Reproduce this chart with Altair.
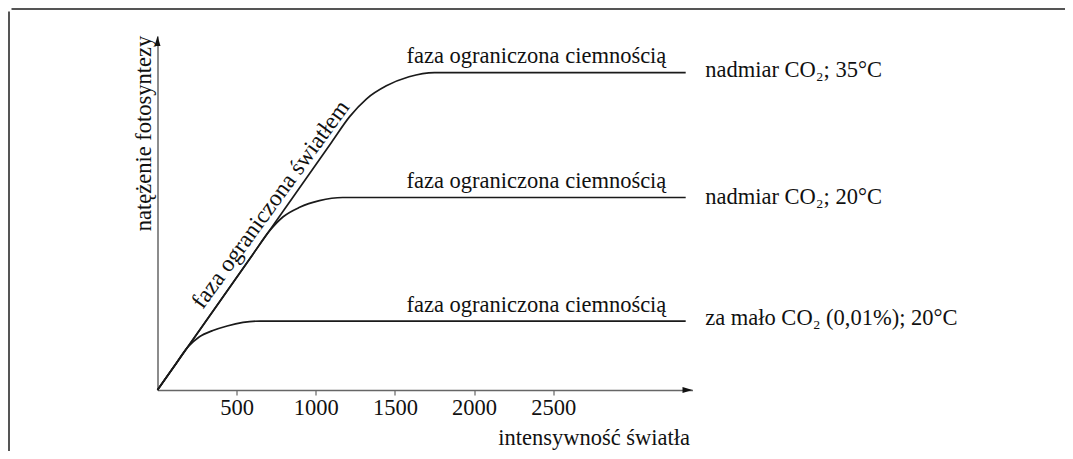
import altair as alt
import pandas as pd

FONT = "Liberation Serif"

# --- curve data (x: light intensity, y: photosynthesis rate, arbitrary units)
x_35 = [0, 400, 800, 1100, 1214, 1321, 1446, 1589, 1750, 3337]
y_35 = [0, 25.7, 51.5, 70.8, 78.1, 83.2, 86.9, 89.5, 90.7, 90.7]
x_20 = [0, 300, 600, 710, 794, 898, 1023, 1170, 3337]
y_20 = [0, 19.3, 38.6, 45.6, 49.5, 52.2, 54.1, 55.0, 55.0]
x_low = [0, 100, 190, 265, 350, 440, 540, 650, 3337]
y_low = [0, 6.4, 12.2, 15.2, 17.0, 18.3, 19.3, 19.7, 19.7]

x_ticks = [500, 1000, 1500, 2000, 2500]
x_max = 3380
y_max = 101.14

phase_text = "faza ograniczona ciemnością"
phase_x = [2394, 2394, 2394]
phase_y = [93.3, 57.6, 22.3]

cond_labels = ["nadmiar CO₂; 35°C", "nadmiar CO₂; 20°C", "za mało CO₂ (0,01%); 20°C"]
cond_x = [3460, 3460, 3460]
cond_y = [91.3, 55.2, 20.6]

light_text = "faza ograniczona światłem"
light_x = [716]
light_y = [53.0]

# --- tables
rows = []
for name, xs, ys in [("35", x_35, y_35), ("20", x_20, y_20), ("low", x_low, y_low)]:
    for i, (a, b) in enumerate(zip(xs, ys)):
        rows.append({"series": name, "x": a, "y": b, "order": i})
curves = pd.DataFrame(rows)
phase_df = pd.DataFrame({"x": phase_x, "y": phase_y, "text": [phase_text] * 3})
cond_df = pd.DataFrame({"x": cond_x, "y": cond_y, "text": cond_labels})
light_df = pd.DataFrame({"x": light_x, "y": light_y, "text": [light_text]})
arrow_x_df = pd.DataFrame({"x": [x_max], "y": [0]})
arrow_y_df = pd.DataFrame({"x": [0], "y": [y_max]})

X = alt.X(
    "x:Q",
    scale=alt.Scale(domain=[0, x_max], nice=False, zero=False),
    axis=alt.Axis(
        values=x_ticks, grid=False, format="d",
        domainColor="#666", domainWidth=1.5,
        tickColor="#666", tickSize=5, tickWidth=1.2,
        labelFont=FONT, labelFontSize=22.5, labelColor="#111", labelPadding=1,
        labelFlush=False,
        title="intensywność światła", titleFont=FONT, titleFontSize=22.5,
        titleFontWeight="normal", titleColor="#111",
        titleX=532, titleY=54, titleAlign="right", titleBaseline="alphabetic",
    ),
)
Y = alt.Y(
    "y:Q",
    scale=alt.Scale(domain=[0, y_max], nice=False, zero=False),
    axis=alt.Axis(
        ticks=False, labels=False, grid=False,
        domainColor="#666", domainWidth=1.5,
        title="natężenie fotosyntezy", titleFont=FONT, titleFontSize=22.5,
        titleFontWeight="normal", titleColor="#111",
        titleX=-7, titleY=97, titleAngle=270, titleAlign="center",
        titleBaseline="alphabetic",
    ),
)

frame_data = alt.Data(values=[{}])
frame_top = alt.Chart(frame_data).mark_rule(color="#555", strokeWidth=2).encode(
    x=alt.value(-146), x2=alt.value(1000), y=alt.value(-27)
)
frame_left = alt.Chart(frame_data).mark_rule(color="#555", strokeWidth=2).encode(
    x=alt.value(-148.5), y=alt.value(-24.5), y2=alt.value(500)
)
frame_corner = alt.Chart(frame_data).mark_arc(
    stroke="#555", strokeWidth=2, fillOpacity=0, theta=4.712, theta2=6.283,
    radius=2.8, radius2=2.8
).encode(x=alt.value(-145.7), y=alt.value(-24.2))

lines = alt.Chart(curves).mark_line(
    color="#1a1a1a", strokeWidth=1.7, interpolate="monotone"
).encode(x=X, y=Y, detail="series:N", order="order:Q")

arrow_x = alt.Chart(arrow_x_df).mark_point(
    shape="M-2,-0.6L0,0L-2,0.6Z", filled=True, size=100, color="#111", opacity=1
).encode(x=X, y=Y)
arrow_y = alt.Chart(arrow_y_df).mark_point(
    shape="M-0.6,2L0,0L0.6,2Z", filled=True, size=100, color="#111", opacity=1
).encode(x=X, y=Y)

phase = alt.Chart(phase_df).mark_text(
    font=FONT, fontSize=22.5, color="#111", align="center", baseline="alphabetic"
).encode(x=X, y=Y, text="text:N")

cond = alt.Chart(cond_df).mark_text(
    font=FONT, fontSize=22.5, color="#111", align="left", baseline="middle"
).encode(x=X, y=Y, text="text:N")

light = alt.Chart(light_df).mark_text(
    font=FONT, fontSize=23.5, color="#111", align="center", baseline="middle", angle=306
).encode(x=X, y=Y, text="text:N")

chart = alt.layer(
    frame_top, frame_left, lines, arrow_x, arrow_y, phase, cond, light
).properties(
    width=535,
    height=354,
    autosize=alt.AutoSizeParams(type="none"),
    padding={"left": 149.5, "top": 28, "right": 372.5, "bottom": 61},
    background="white",
).configure_view(stroke="transparent")

chart.save("out.html", embed_options={"renderer": "svg", "actions": False})
